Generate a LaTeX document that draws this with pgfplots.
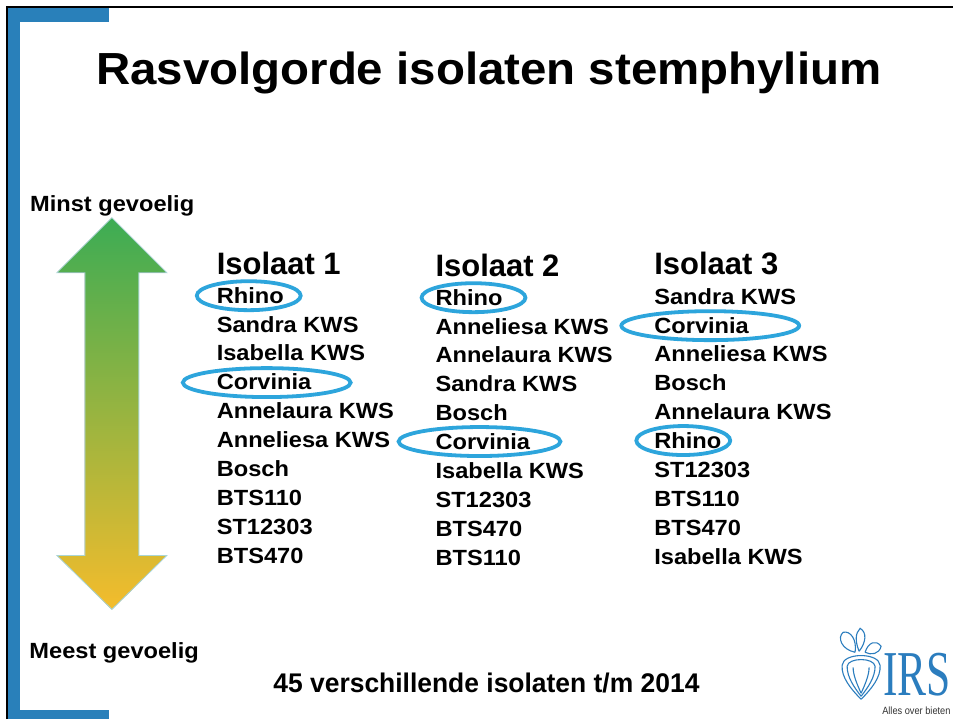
\documentclass[border=0pt]{standalone}
\usepackage{pgfplots}
\pgfplotsset{compat=1.18}
\usepackage{pgfplotstable}
\usepackage{fontspec}
\setmainfont{Liberation Sans}
\newfontfamily\seriffont{Liberation Serif}
\definecolor{slideblue}{RGB}{41,128,186}
\definecolor{ringblue}{RGB}{45,165,220}
\definecolor{logoblue}{RGB}{43,125,190}
\definecolor{topgreen}{RGB}{60,172,84}
\definecolor{midolive}{RGB}{170,176,72}
\definecolor{botyellow}{RGB}{244,188,44}

% column headers: x, baseline y, label
\pgfplotstableread[col sep=comma]{
x,y,label
217,274.3,Isolaat 1
436,276.5,Isolaat 2
655,274.5,Isolaat 3
}\heads

\pgfplotstableread[col sep=comma]{
x,y,label
217,303.5,Rhino
217,332.4,Sandra KWS
217,361.3,Isabella KWS
217,390.2,Corvinia
217,419.1,Annelaura KWS
217,448.0,Anneliesa KWS
217,476.9,Bosch
217,505.8,BTS110
217,534.7,ST12303
217,563.6,BTS470
}\isoA

\pgfplotstableread[col sep=comma]{
x,y,label
436,305.5,Rhino
436,334.4,Anneliesa KWS
436,363.3,Annelaura KWS
436,392.2,Sandra KWS
436,421.1,Bosch
436,450.0,Corvinia
436,478.9,Isabella KWS
436,507.8,ST12303
436,536.7,BTS470
436,565.6,BTS110
}\isoB

\pgfplotstableread[col sep=comma]{
x,y,label
655,304.5,Sandra KWS
655,333.4,Corvinia
655,362.3,Anneliesa KWS
655,391.2,Bosch
655,420.1,Annelaura KWS
655,449.0,Rhino
655,477.9,ST12303
655,506.8,BTS110
655,535.7,BTS470
655,564.6,Isabella KWS
}\isoC

\pgfplotsset{
  textlist/.style={draw=none, mark=none, only marks,
    nodes near coords={\scalebox{#1}[1]{\pgfplotspointmeta}},
    point meta=explicit symbolic,
    every node near coord/.append style={anchor=base west, inner sep=0pt, outer sep=0pt}},
}

\begin{document}
\begin{tikzpicture}
\begin{axis}[
  width=954bp, height=720bp, scale only axis,
  xmin=0, xmax=954, ymin=0, ymax=720, y dir=reverse,
  hide axis, clip=false,
]
% page background
\fill[white] (axis cs:0,0) rectangle (axis cs:954,720);
% slide frame
\draw[black, line width=2bp] (axis cs:7,720) -- (axis cs:7,7) -- (axis cs:954,7);
\fill[slideblue] (axis cs:8,8) rectangle (axis cs:109,22);
\fill[slideblue] (axis cs:8,8) rectangle (axis cs:20,720);
\fill[slideblue] (axis cs:8,711) rectangle (axis cs:109,720);

% title
\node[anchor=base west, inner sep=0pt, font=\fontsize{45bp}{50bp}\selectfont\bfseries]
  at (axis cs:96,85) {\scalebox{1.055}[1]{Rasvolgorde isolaten stemphylium}};

% arrow
\fill[top color=topgreen, middle color=midolive, bottom color=botyellow, draw={rgb,255:red,170;green,214;blue,214}, line width=0.8bp]
  (axis cs:112,218) -- (axis cs:167,273) -- (axis cs:139,273) -- (axis cs:139,556)
  -- (axis cs:167,556) -- (axis cs:112,610) -- (axis cs:57,556) -- (axis cs:85,556)
  -- (axis cs:85,273) -- (axis cs:57,273) -- cycle;

\node[anchor=base west, inner sep=0pt, font=\fontsize{22bp}{26bp}\selectfont\bfseries]
  at (axis cs:30,212) {\scalebox{1.075}[1]{Minst gevoelig}};
\node[anchor=base west, inner sep=0pt, font=\fontsize{22bp}{26bp}\selectfont\bfseries]
  at (axis cs:29.3,659.3) {\scalebox{1.075}[1]{Meest gevoelig}};
\node[anchor=base west, inner sep=0pt, font=\fontsize{27bp}{30bp}\selectfont\bfseries]
  at (axis cs:273.5,693.3) {\scalebox{0.98}[1]{45 verschillende isolaten t/m 2014}};

% column headers and lists
\addplot[textlist=1.0, every node near coord/.append style={font=\fontsize{31bp}{34bp}\selectfont\bfseries}]
  table[x=x, y=y, meta=label] {\heads};
\addplot[textlist=1.075, every node near coord/.append style={font=\fontsize{22bp}{26bp}\selectfont\bfseries}]
  table[x=x, y=y, meta=label] {\isoA};
\addplot[textlist=1.075, every node near coord/.append style={font=\fontsize{22bp}{26bp}\selectfont\bfseries}]
  table[x=x, y=y, meta=label] {\isoB};
\addplot[textlist=1.075, every node near coord/.append style={font=\fontsize{22bp}{26bp}\selectfont\bfseries}]
  table[x=x, y=y, meta=label] {\isoC};

% rings
\begin{scope}[ringblue, line width=3.8bp]
\draw (axis cs:249,296) ellipse [x radius=52bp, y radius=14.5bp];
\draw (axis cs:267,383) ellipse [x radius=84bp, y radius=14.5bp];
\draw (axis cs:474,298) ellipse [x radius=52bp, y radius=14.5bp];
\draw (axis cs:480,442) ellipse [x radius=81bp, y radius=14.5bp];
\draw (axis cs:711,326) ellipse [x radius=89bp, y radius=14.5bp];
\draw (axis cs:684,441) ellipse [x radius=47bp, y radius=14.5bp];
\end{scope}

% IRS logo
\begin{scope}[logoblue, line width=1.1bp]
\draw (axis cs:856,653) .. controls (axis cs:842,650) and (axis cs:838,638) .. (axis cs:844,633)
  .. controls (axis cs:851,631) and (axis cs:858,640) .. (axis cs:856,653);
\draw (axis cs:860,652) .. controls (axis cs:856,642) and (axis cs:856,634) .. (axis cs:861,629)
  .. controls (axis cs:868,633) and (axis cs:867,643) .. (axis cs:860,652);
\draw (axis cs:866,653) .. controls (axis cs:869,643) and (axis cs:877,640) .. (axis cs:882,647)
  .. controls (axis cs:880,655) and (axis cs:872,656) .. (axis cs:866,653);
\draw (axis cs:862,700) .. controls (axis cs:852,690) and (axis cs:842,678) .. (axis cs:843,666)
  .. controls (axis cs:844,653) and (axis cs:880,653) .. (axis cs:881,666)
  .. controls (axis cs:882,678) and (axis cs:872,690) .. (axis cs:862,700);
\draw (axis cs:862,697) .. controls (axis cs:855,688) and (axis cs:848,678) .. (axis cs:848,667)
  .. controls (axis cs:849,658) and (axis cs:875,658) .. (axis cs:876,667)
  .. controls (axis cs:876,678) and (axis cs:869,688) .. (axis cs:862,697);
\draw (axis cs:862,694) .. controls (axis cs:858,685) and (axis cs:854,676) .. (axis cs:854,668);
\draw (axis cs:862,694) .. controls (axis cs:866,685) and (axis cs:870,676) .. (axis cs:870,668);
\end{scope}
\node[anchor=base west, inner sep=0pt, text=logoblue, font=\fontsize{64bp}{64bp}\selectfont\seriffont]
  at (axis cs:884,696) {\scalebox{0.68}[1]{IRS}};
\node[anchor=base west, inner sep=0pt, text=black!80, font=\fontsize{10.5bp}{11bp}\selectfont]
  at (axis cs:883,715.5) {\scalebox{0.88}[1]{Alles over bieten}};
\end{axis}
\end{tikzpicture}
\end{document}
